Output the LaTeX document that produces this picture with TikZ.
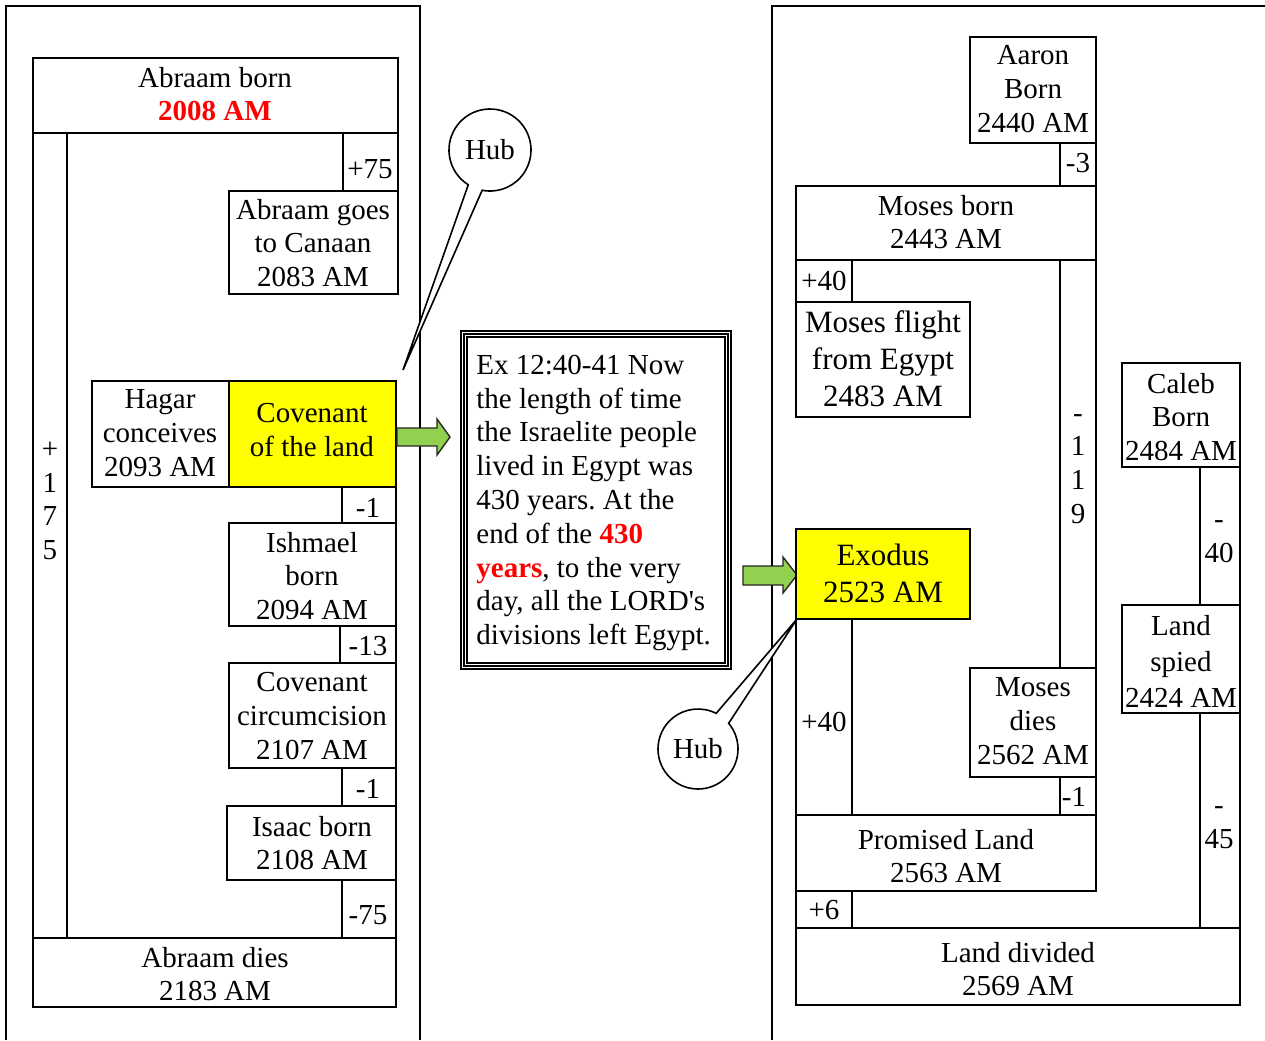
\documentclass[tikz,border=0pt]{standalone}
\usepackage{fontspec}
\setmainfont{Liberation Serif}
\usetikzlibrary{calc}
\definecolor{hiyellow}{RGB}{255,255,0}
\definecolor{arrowgreen}{RGB}{146,208,80}
\newcommand{\redbold}[1]{\textbf{\textcolor{red}{#1}}}
\frenchspacing
\begin{document}
\begin{tikzpicture}[x=0.5pt,y=-0.5pt,
    box/.style={draw, line width=1pt},
    frame/.style={draw, line width=0.8pt},
    txt/.style={align=center, inner sep=0pt, font=\fontsize{14.5}{16.9}\selectfont},
    bigtxt/.style={txt, font=\fontsize{15.5}{18.5}\selectfont},
    blockarrow/.style={fill=arrowgreen, draw=black!85, line width=0.7pt},
    callout/.style={draw, fill=white, line width=0.8pt}]
    \useasboundingbox (0,0) rectangle (1265,1040);

    % panel frames
    \draw[frame] (6,1040) -- (6,6) -- (420,6) -- (420,1040);
    \draw[frame] (772,1040) -- (772,6) -- (1265,6);

    % Abraam column
    \draw[box] (33,58) rectangle (398,133);
    \draw[box] (33,133) rectangle (67,938);
    \draw[box] (343,133) rectangle (398,191);
    \draw[box] (229,191) rectangle (398,294);
    \draw[box] (92,381) rectangle (229,487);
    \draw[box, fill=hiyellow] (229,381) rectangle (396,487);
    \draw[box] (342,487) rectangle (396,523);
    \draw[box] (229,523) rectangle (396,626);
    \draw[box] (340,626) rectangle (396,663);
    \draw[box] (229,663) rectangle (396,768);
    \draw[box] (342,768) rectangle (396,806);
    \draw[box] (227,806) rectangle (396,880);
    \draw[box] (342,880) rectangle (396,938);
    \draw[box] (33,938) rectangle (396,1007);

    \node[txt] (abborn) at (215,94) {Abraam born\\\redbold{2008 AM}};
    \node[txt] (span175) at (50,501) {+\\1\\7\\5};
    \node[txt] (d75) at (370,169) {+75};
    \node[txt] (canaan) at (313,243) {Abraam goes\\to Canaan\\2083 AM};
    \node[txt] (hagar) at (160,433) {Hagar\\conceives\\2093 AM};
    \node[txt] (covland) at (312,430) {Covenant\\of the land};
    \node[txt] (d1a) at (368,508) {-1};
    \node[txt] (ishmael) at (312,576) {Ishmael\\born\\2094 AM};
    \node[txt] (d13) at (368,646) {-13};
    \node[txt] (circum) at (312,716) {Covenant\\circumcision\\2107 AM};
    \node[txt] (d1b) at (368,789) {-1};
    \node[txt] (isaac) at (312,843) {Isaac born\\2108 AM};
    \node[txt] (dm75) at (368,915) {-75};
    \node[txt] (abdies) at (215,974) {Abraam dies\\2183 AM};

    % scripture box
    \draw[line width=0.7pt] (461,331) rectangle (731,669);
    \draw[line width=0.7pt] (464,334) rectangle (728,666);
    \draw[line width=1.3pt] (467,337) rectangle (725,663);
    \node[txt, align=left, anchor=west] (exodustext) at (476,503)
        {Ex 12:40-41 Now\\the length of time\\the Israelite people\\lived in Egypt was\\430 years. At the\\end of the \redbold{430}\\\redbold{years}, to the very\\day, all the LORD\textquotesingle s\\divisions left Egypt.};

    % block arrows
    \draw[blockarrow] (397,428) -- (437,428) -- (437,419) -- (450,437)
        -- (437,455) -- (437,446) -- (397,446) -- cycle;
    \draw[blockarrow] (743,566) -- (783,566) -- (783,557) -- (797,575)
        -- (783,593) -- (783,585) -- (743,585) -- cycle;

    % Moses column
    \draw[box] (970,37) rectangle (1096,143);
    \draw[box] (1060,143) rectangle (1096,186);
    \draw[box] (796,186) rectangle (1096,260);
    \draw[box] (796,260) rectangle (852,302);
    \draw[box] (796,302) rectangle (970,417);
    \draw[box] (1060,260) rectangle (1096,668);
    \draw[box, fill=hiyellow] (796,529) rectangle (970,619);
    \draw[box] (796,619) rectangle (852,815);
    \draw[box] (970,668) rectangle (1096,777);
    \draw[box] (1060,777) rectangle (1096,815);
    \draw[box] (796,815) rectangle (1096,891);
    \draw[box] (796,891) rectangle (852,928);
    % Caleb column
    \draw[box] (1122,363) rectangle (1240,467);
    \draw[box] (1200,467) rectangle (1240,605);
    \draw[box] (1122,605) rectangle (1240,713);
    \draw[box] (1200,713) rectangle (1240,928);
    \draw[box] (796,928) rectangle (1240,1005);

    \node[txt] (aaron) at (1033,89) {Aaron\\Born\\2440 AM};
    \node[txt] (d3) at (1078,163) {-3};
    \node[txt] (mosesborn) at (946,222) {Moses born\\2443 AM};
    \node[txt] (d40a) at (824,281) {+40};
    \node[bigtxt] (flight) at (883,359) {Moses flight\\from Egypt\\2483 AM};
    \node[txt] (span119) at (1078,469) {-\\1\\1\\9};
    \node[txt] (caleb) at (1181,417) {Caleb\\Born\\2484 AM};
    \node[txt] (d40c) at (1219,542) {-\\40};
    \node[txt, font=\fontsize{14.5}{18}\selectfont] (spied) at (1181,661) {Land\\spied\\2424 AM};
    \node[txt] (d45) at (1219,828) {-\\45};
    \node[bigtxt] (exodus) at (883,573) {Exodus\\2523 AM};
    \node[txt] (d40b) at (824,722) {+40};
    \node[txt] (mosesdies) at (1033,721) {Moses\\dies\\2562 AM};
    \node[txt] (d1c) at (1074,797) {-1};
    \node[txt] (promised) at (946,856) {Promised Land\\2563 AM};
    \node[txt] (d6) at (824,910) {+6};
    \node[txt] (divided) at (1018,969) {Land divided\\2569 AM};

    % hub callouts
    \coordinate (tipA) at (403,370);
    \coordinate (tipB) at (797,619);
    \node[txt] (hubA) at (490,150) {};
    \node[txt] (hubB) at (698,749) {};
    \draw[callout] (tipA) -- ($(hubA.center)+(122:41)$)
        arc[start angle=122, end angle=461, radius=41] -- cycle;
    \draw[callout] (tipB) -- ($(hubB.center)+(320:40)$)
        arc[start angle=320, end angle=657, radius=40] -- cycle;
    \node[txt] at (hubA) {Hub};
    \node[txt] at (hubB) {Hub};
\end{tikzpicture}
\end{document}
